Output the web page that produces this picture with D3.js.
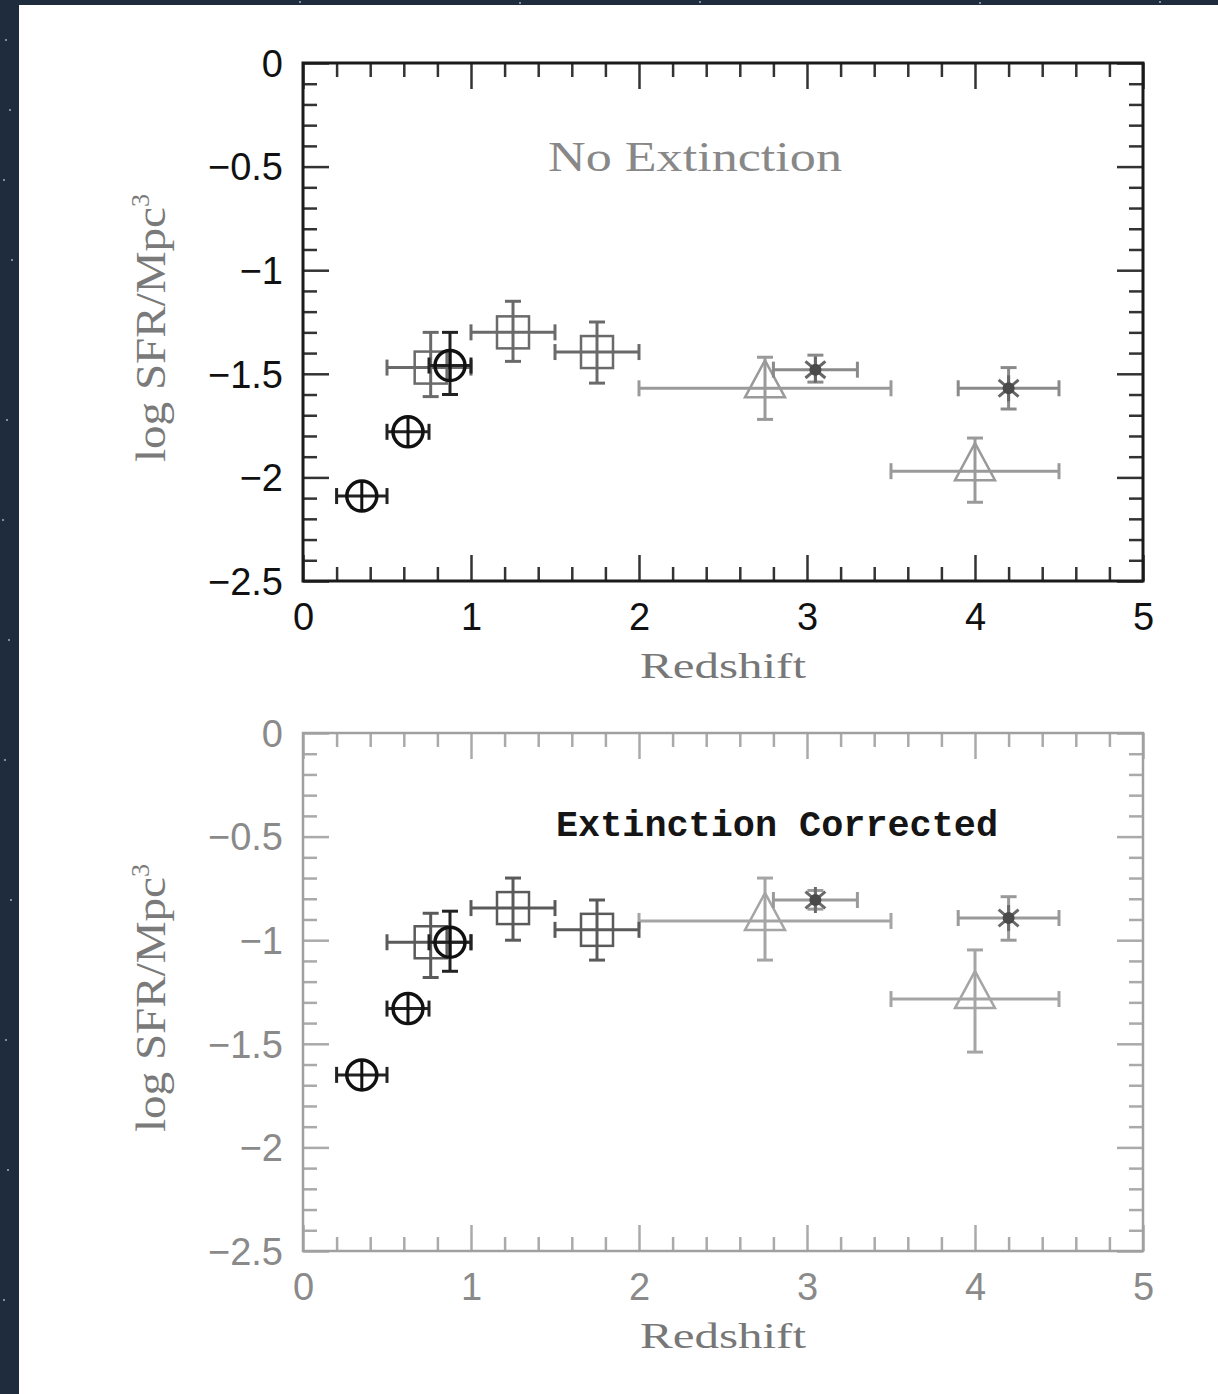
<!DOCTYPE html>
<html><head><meta charset="utf-8">
<script src="https://cdn.jsdelivr.net/npm/d3@7"></script>
<style>html,body{margin:0;padding:0;background:#1f2c3e;}svg{display:block;}</style>
</head><body>
<svg id="c" width="1218" height="1394"></svg>
<script>
// ---------- data ----------
const xTicks = [0, 1, 2, 3, 4, 5];
const yTicks = [0, -0.5, -1, -1.5, -2, -2.5];
const yTickLabels = ["0", "\u22120.5", "\u22121", "\u22121.5", "\u22122", "\u22122.5"];
const panelTitles = ["No Extinction", "Extinction Corrected"];
const xLabel = "Redshift";
const yLabel = "log SFR/Mpc";

// circles (x = redshift, with ranges)
const circleZ   = [0.35, 0.625, 0.875];
const circleZlo = [0.2, 0.5, 0.75];
const circleZhi = [0.5, 0.75, 1.0];
const circleTop   = [-2.09, -1.78, -1.46];
const circleTopLo = [-2.09, -1.78, -1.60];
const circleTopHi = [-2.09, -1.78, -1.30];
const circleBot   = [-1.65, -1.33, -1.01];
const circleBotLo = [-1.65, -1.33, -1.15];
const circleBotHi = [-1.65, -1.33, -0.86];

// squares
const squareZ   = [0.76, 1.25, 1.75];
const squareZlo = [0.5, 1.0, 1.5];
const squareZhi = [1.0, 1.5, 2.0];
const squareTop   = [-1.47, -1.30, -1.395];
const squareTopLo = [-1.61, -1.44, -1.545];
const squareTopHi = [-1.30, -1.15, -1.25];
const squareBot   = [-1.01, -0.845, -0.95];
const squareBotLo = [-1.18, -1.0, -1.096];
const squareBotHi = [-0.87, -0.70, -0.806];

// triangles
const triZ   = [2.75, 4.0];
const triZlo = [2.0, 3.5];
const triZhi = [3.5, 4.5];
const triTop   = [-1.57, -1.97];
const triTopLo = [-1.72, -2.12];
const triTopHi = [-1.42, -1.81];
const triBot   = [-0.907, -1.284];
const triBotLo = [-1.096, -1.54];
const triBotHi = [-0.70, -1.047];

// asterisks
const starZ   = [3.05, 4.2];
const starZlo = [2.8, 3.9];
const starZhi = [3.3, 4.5];
const starTop   = [-1.48, -1.57];
const starTopLo = [-1.54, -1.67];
const starTopHi = [-1.41, -1.47];
const starBot   = [-0.806, -0.893];
const starBotLo = [-0.85, -1.0];
const starBotHi = [-0.76, -0.79];

// ---------- drawing ----------
const svg = d3.select("#c");
svg.append("rect").attr("x", 0).attr("y", 0).attr("width", 1218).attr("height", 1394).attr("fill", "#1f2c3e");
const starDots = [[6,40],[10,110],[4,180],[12,260],[7,420],[3,520],[9,640],[5,760],[11,900],[6,1040],[8,1170],[4,1300],[300,2],[520,3],[700,2],[980,3],[1160,2]];
svg.selectAll(".bg").data(starDots).enter().append("circle")
  .attr("cx", d => d[0]).attr("cy", d => d[1]).attr("r", 1).attr("fill", "#9fb0c8");
svg.append("rect").attr("x", 19).attr("y", 5).attr("width", 1199).attr("height", 1389).attr("fill", "#ffffff");

function makeSeries(z, zlo, zhi, y, ylo, yhi) {
  return z.map((v, i) => ({z: v, zlo: zlo[i], zhi: zhi[i], y: y[i], ylo: ylo[i], yhi: yhi[i]}));
}

const panels = [
  {top: 63, bottom: 581, title: panelTitles[0], dark: true,
   circles: makeSeries(circleZ, circleZlo, circleZhi, circleTop, circleTopLo, circleTopHi),
   squares: makeSeries(squareZ, squareZlo, squareZhi, squareTop, squareTopLo, squareTopHi),
   tris: makeSeries(triZ, triZlo, triZhi, triTop, triTopLo, triTopHi),
   stars: makeSeries(starZ, starZlo, starZhi, starTop, starTopLo, starTopHi)},
  {top: 733, bottom: 1251, title: panelTitles[1], dark: false,
   circles: makeSeries(circleZ, circleZlo, circleZhi, circleBot, circleBotLo, circleBotHi),
   squares: makeSeries(squareZ, squareZlo, squareZhi, squareBot, squareBotLo, squareBotHi),
   tris: makeSeries(triZ, triZlo, triZhi, triBot, triBotLo, triBotHi),
   stars: makeSeries(starZ, starZlo, starZhi, starBot, starBotLo, starBotHi)}
];

const left = 303, right = 1143;
const x = d3.scaleLinear().domain([0, 5]).range([left, right]);
const minorX = d3.range(0, 5.001, 0.2).map(v => +v.toFixed(2)).filter(v => Math.abs(v - Math.round(v)) > 1e-6);
const minorY = d3.range(0, -2.5001, -0.1).map(v => +v.toFixed(2)).filter(v => Math.abs(v*2 - Math.round(v*2)) > 1e-6);

panels.forEach(p => {
  const y = d3.scaleLinear().domain([0, -2.5]).range([p.top, p.bottom]);
  const g = svg.append("g");
  const axisCol = p.dark ? "#1a1a1a" : "#a0a0a0";
  const tickCol = p.dark ? "#333" : "#aaa";
  const labelCol = p.dark ? "#111" : "#8a8a8a";
  const H = p.bottom - p.top, W = right - left;

  function styleAxis(sel, w) {
    sel.select(".domain").remove();
    sel.selectAll(".tick line").attr("stroke", tickCol).attr("stroke-width", w);
  }
  g.append("g").attr("transform", `translate(0,${p.bottom})`)
    .call(d3.axisBottom(x).tickValues(minorX).tickSize(-14).tickFormat("")).call(s => styleAxis(s, 2.5));
  g.append("g").attr("transform", `translate(0,${p.top})`)
    .call(d3.axisTop(x).tickValues(minorX).tickSize(-14).tickFormat("")).call(s => styleAxis(s, 2.5));
  g.append("g").attr("transform", `translate(${left},0)`)
    .call(d3.axisLeft(y).tickValues(minorY).tickSize(-14).tickFormat("")).call(s => styleAxis(s, 2.5));
  g.append("g").attr("transform", `translate(${right},0)`)
    .call(d3.axisRight(y).tickValues(minorY).tickSize(-14).tickFormat("")).call(s => styleAxis(s, 2.5));
  const xb = g.append("g").attr("transform", `translate(0,${p.bottom})`)
    .call(d3.axisBottom(x).tickValues(xTicks).tickSize(-26).tickPadding(0).tickFormat(d3.format("d")));
  styleAxis(xb, 2.5);
  xb.selectAll(".tick text").attr("y", 36).attr("dy", "0.35em")
    .attr("font-family", "Liberation Sans, Arial, sans-serif").attr("font-size", 38)
    .attr("fill", labelCol);
  g.append("g").attr("transform", `translate(0,${p.top})`)
    .call(d3.axisTop(x).tickValues(xTicks).tickSize(-26).tickFormat("")).call(s => styleAxis(s, 2.5));
  const yl = g.append("g").attr("transform", `translate(${left},0)`)
    .call(d3.axisLeft(y).tickValues(yTicks).tickSize(-26).tickPadding(0)
      .tickFormat((d, i) => yTickLabels[i]));
  styleAxis(yl, 2.5);
  yl.selectAll(".tick text").attr("x", -20).attr("dy", "0.35em")
    .attr("font-family", "Liberation Sans, Arial, sans-serif").attr("font-size", 38)
    .attr("fill", labelCol);
  g.append("g").attr("transform", `translate(${right},0)`)
    .call(d3.axisRight(y).tickValues(yTicks).tickSize(-26).tickFormat("")).call(s => styleAxis(s, 2.5));

  g.append("rect").attr("x", left).attr("y", p.top).attr("width", W).attr("height", H)
    .attr("fill", "none").attr("stroke", axisCol).attr("stroke-width", p.dark ? 3 : 2.5);

  // axis labels
  g.append("text").attr("x", 723).attr("y", p.bottom + 84).attr("dy", "0.35em")
    .attr("text-anchor", "middle").attr("font-family", "Liberation Serif, Times New Roman, serif")
    .attr("font-size", 36).attr("fill", "#777").attr("textLength", 166).attr("lengthAdjust", "spacingAndGlyphs")
    .text(xLabel);
  const yt = g.append("text").attr("transform", `translate(150,${(p.top + p.bottom) / 2 + 6}) rotate(-90)`)
    .attr("text-anchor", "middle").attr("dy", "0.35em")
    .attr("font-family", "Liberation Serif, Times New Roman, serif")
    .attr("font-size", 42).attr("fill", "#7a7a7a");
  yt.append("tspan").attr("textLength", 255).attr("lengthAdjust", "spacingAndGlyphs").text(yLabel);
  yt.append("tspan").attr("dy", -16).attr("font-size", 26).text("3");

  if (p.dark) {
    g.append("text").attr("x", 548).attr("y", p.top + 93).attr("dy", "0.35em")
      .attr("font-family", "Liberation Serif, Times New Roman, serif").attr("font-size", 42)
      .attr("fill", "#888").attr("textLength", 294).attr("lengthAdjust", "spacingAndGlyphs")
      .text(p.title);
  } else {
    g.append("text").attr("x", 556).attr("y", p.top + 90).attr("dy", "0.35em")
      .attr("font-family", "Liberation Mono, Courier New, monospace").attr("font-size", 36)
      .attr("font-weight", "bold")
      .attr("fill", "#151515").attr("textLength", 442).attr("lengthAdjust", "spacingAndGlyphs")
      .text(p.title);
  }

  function errBars(data, col, w) {
    const eg = g.append("g").attr("stroke", col).attr("stroke-width", w).attr("fill", "none");
    data.forEach(d => {
      const cx = x(d.z), cy = y(d.y);
      eg.append("line").attr("x1", x(d.zlo)).attr("x2", x(d.zhi)).attr("y1", cy).attr("y2", cy);
      eg.append("line").attr("x1", x(d.zlo)).attr("x2", x(d.zlo)).attr("y1", cy - 8).attr("y2", cy + 8);
      eg.append("line").attr("x1", x(d.zhi)).attr("x2", x(d.zhi)).attr("y1", cy - 8).attr("y2", cy + 8);
      if (d.ylo !== d.yhi) {
        eg.append("line").attr("x1", cx).attr("x2", cx).attr("y1", y(d.ylo)).attr("y2", y(d.yhi));
        eg.append("line").attr("x1", cx - 8).attr("x2", cx + 8).attr("y1", y(d.ylo)).attr("y2", y(d.ylo));
        eg.append("line").attr("x1", cx - 8).attr("x2", cx + 8).attr("y1", y(d.yhi)).attr("y2", y(d.yhi));
      }
    });
  }

  const triCol = p.dark ? "#9a9a9a" : "#a5a5a5";
  const sqCol = p.dark ? "#6a6a6a" : "#5a5a5a";
  const starCol = p.dark ? "#666" : "#6a6a6a";

  errBars(p.tris, triCol, 3);
  p.tris.forEach(d => {
    const cx = x(d.z), cy = y(d.y);
    g.append("path").attr("d", `M${cx},${cy - 28} L${cx + 20},${cy + 9} L${cx - 20},${cy + 9} Z`)
      .attr("fill", "none").attr("stroke", triCol).attr("stroke-width", 2.5);
  });
  errBars(p.stars, p.dark ? "#8a8a8a" : "#9a9a9a", 3);
  p.stars.forEach(d => {
    const cx = x(d.z), cy = y(d.y), r = 13;
    const sg = g.append("g").attr("stroke", starCol).attr("stroke-width", 3);
    [0, 50, 130].forEach(a => {
      const t = a * Math.PI / 180;
      sg.append("line").attr("x1", cx + r * Math.sin(t)).attr("y1", cy - r * Math.cos(t))
        .attr("x2", cx - r * Math.sin(t)).attr("y2", cy + r * Math.cos(t));
    });
    g.append("circle").attr("cx", cx).attr("cy", cy).attr("r", 6).attr("fill", "#4a4a4a");
  });
  errBars(p.squares, sqCol, 3);
  p.squares.forEach(d => {
    const cx = x(d.z), cy = y(d.y);
    g.append("rect").attr("x", cx - 16).attr("y", cy - 16).attr("width", 32).attr("height", 32)
      .attr("fill", "none").attr("stroke", sqCol).attr("stroke-width", 2.5);
  });
  errBars(p.circles, "#222", 3);
  p.circles.forEach(d => {
    const cx = x(d.z), cy = y(d.y), r = 15;
    g.append("circle").attr("cx", cx).attr("cy", cy).attr("r", r)
      .attr("fill", "none").attr("stroke", "#111").attr("stroke-width", 3.5);
    g.append("line").attr("x1", cx).attr("x2", cx).attr("y1", cy - r).attr("y2", cy + r)
      .attr("stroke", "#111").attr("stroke-width", 3);
  });
});
</script>
</body></html>
